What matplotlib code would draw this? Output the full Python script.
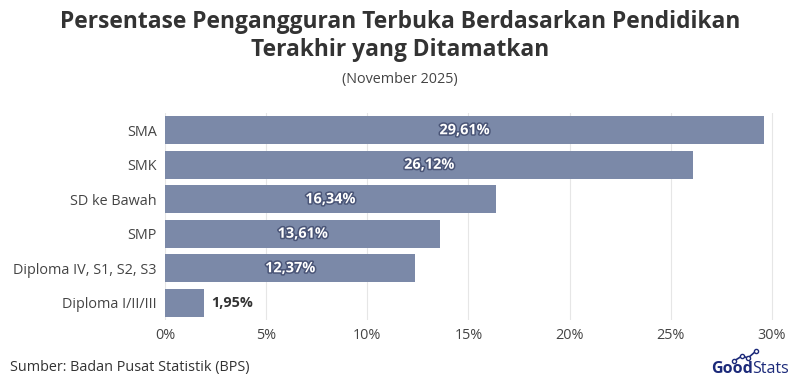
import matplotlib.pyplot as plt
import matplotlib.patheffects as pe

# data
categories = ["SMA", "SMK", "SD ke Bawah", "SMP", "Diploma IV, S1, S2, S3", "Diploma I/II/III"]
values = [29.61, 26.12, 16.34, 13.61, 12.37, 1.95]
labels = ["29,61%", "26,12%", "16,34%", "13,61%", "12,37%", "1,95%"]
ticks = [0, 5, 10, 15, 20, 25, 30]
tick_labels = ["0%", "5%", "10%", "15%", "20%", "25%", "30%"]

plt.rcParams["font.family"] = ["Open Sans", "DejaVu Sans"]
fs = 10.4

fig = plt.figure(figsize=(8, 3.9), dpi=100)
ax = fig.add_axes([165 / 800, 1 - 320 / 390, 610 / 800, 207 / 390])

bar_color = "#7b89a8"
y = list(range(len(categories)))
ax.barh(y, values, height=0.8, color=bar_color, zorder=2)
ax.set_ylim(len(categories) - 0.5, -0.5)
ax.set_xlim(0, 30.15)
ax.set_yticks(y)
ax.set_yticklabels(categories, fontsize=fs, color="#444444")
ax.set_xticks(ticks)
ax.set_xticklabels(tick_labels, fontsize=fs, color="#444444")
ax.tick_params(length=0, pad=6)
ax.grid(axis="x", color="#e6e6e6", linewidth=0.8, zorder=0)
for s in ax.spines.values():
    s.set_visible(False)

for i, (v, lab) in enumerate(zip(values, labels)):
    if v > 5:
        ax.text(v / 2, i, lab, ha="center", va="center", fontsize=fs, fontweight="bold",
                color="white", zorder=3,
                path_effects=[pe.withStroke(linewidth=2.2, foreground="#4a5577")])
    else:
        ax.text(v + 0.35, i, lab, ha="left", va="center", fontsize=fs, fontweight="bold",
                color="#333333", zorder=3)

fig.text(0.5, 1 - 22 / 390, "Persentase Pengangguran Terbuka Berdasarkan Pendidikan",
         ha="center", va="center", fontsize=16.4, fontweight="bold", color="#333333")
fig.text(0.5, 1 - 50 / 390, "Terakhir yang Ditamatkan",
         ha="center", va="center", fontsize=16.4, fontweight="bold", color="#333333")
fig.text(0.5, 1 - 80 / 390, "(November 2025)", ha="center", va="center",
         fontsize=fs, color="#444444")

fig.text(10 / 800, 1 - 368 / 390, "Sumber: Badan Pusat Statistik (BPS)", ha="left",
         va="center", fontsize=fs, color="#333333")

# logo
navy = "#1c2a7a"
fig.text(711 / 800, 1 - 369 / 390, "Good", ha="left", va="center", fontsize=11.5,
         fontweight="bold", color=navy)
fig.text(752 / 800, 1 - 369 / 390, "Stats", ha="left", va="center", fontsize=11.5,
         color=navy)
lx = [734 / 800, 742 / 800, 748 / 800, 756 / 800]
ly = [1 - 361 / 390, 1 - 356 / 390, 1 - 358 / 390, 1 - 351 / 390]
fig.add_artist(plt.Line2D(lx, ly, color=navy, linewidth=1.2, marker="o", markersize=3,
                          markerfacecolor="white", markeredgecolor=navy))

fig.savefig("out.png", dpi=100)
